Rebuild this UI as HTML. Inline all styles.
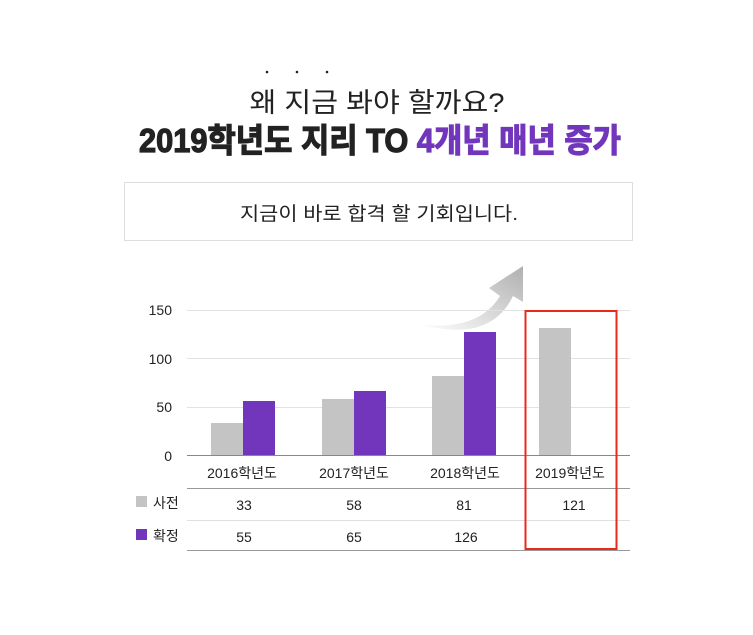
<!DOCTYPE html>
<html><head><meta charset="utf-8"><style>
html,body{margin:0;padding:0;background:#fff;}
svg{display:block;}
text{font-family:"Liberation Sans","Noto Sans CJK KR",sans-serif;}
</style></head><body>
<svg width="753" height="635" viewBox="0 0 753 635" xmlns="http://www.w3.org/2000/svg">
<defs>
<linearGradient id="ag" x1="0" y1="1" x2="1" y2="0">
<stop offset="0" stop-color="#fff"/><stop offset="1" stop-color="#b0b0b0"/>
</linearGradient>
</defs>
<circle cx="267" cy="72" r="1.3" fill="#222"/>
<circle cx="297" cy="72" r="1.3" fill="#222"/>
<circle cx="327" cy="72" r="1.3" fill="#222"/>
<text x="377" y="112" font-size="27" text-anchor="middle" fill="#222" textLength="255" lengthAdjust="spacingAndGlyphs">왜 지금 봐야 할까요?</text>
<text x="139" y="152" font-size="33" font-weight="bold" fill="#222" stroke="#222" stroke-width="1.2" textLength="482" lengthAdjust="spacingAndGlyphs">2019학년도 지리 TO <tspan fill="#7236bd" stroke="#7236bd">4개년 매년 증가</tspan></text>
<rect x="124.5" y="182.5" width="508" height="58" fill="#fff" stroke="#ddd"/>
<text x="379" y="220" font-size="19" text-anchor="middle" fill="#222" textLength="278" lengthAdjust="spacingAndGlyphs">지금이 바로 합격 할 기회입니다.</text>
<!-- arrow -->
<path d="M418,324 Q478,332 500,296 L489,288 L523,266 L523,302 L513,296 Q490,344 418,324 Z" fill="url(#ag)"/>
<!-- grid -->
<g stroke="#e2e2e2" stroke-width="1">
<line x1="187" y1="310.5" x2="630" y2="310.5"/>
<line x1="187" y1="358.5" x2="630" y2="358.5"/>
<line x1="187" y1="407.5" x2="630" y2="407.5"/>
</g>
<g font-size="14" fill="#222" text-anchor="end">
<text x="172" y="315">150</text><text x="172" y="364">100</text><text x="172" y="412">50</text><text x="172" y="461">0</text>
</g>
<g fill="#c4c4c4">
<rect x="211" y="423" width="32" height="32"/><rect x="322" y="399" width="32" height="56"/>
<rect x="432" y="376" width="32" height="79"/><rect x="539" y="328" width="32" height="127"/>
</g>
<g fill="#7236bd">
<rect x="243" y="401" width="32" height="54"/><rect x="354" y="391" width="32" height="64"/>
<rect x="464" y="332" width="32" height="123"/>
</g>
<line x1="187" y1="455.5" x2="630" y2="455.5" stroke="#888"/>
<g font-size="14" fill="#222" text-anchor="middle">
<text x="242" y="478">2016학년도</text><text x="354" y="478">2017학년도</text>
<text x="465" y="478">2018학년도</text><text x="570" y="478">2019학년도</text>
</g>
<line x1="187" y1="488.5" x2="630" y2="488.5" stroke="#999"/>
<line x1="187" y1="520.5" x2="630" y2="520.5" stroke="#e0e0e0"/>
<line x1="187" y1="550.5" x2="630" y2="550.5" stroke="#999"/>
<rect x="136" y="496" width="11" height="11" fill="#c4c4c4"/>
<rect x="136" y="529" width="11" height="11" fill="#7236bd"/>
<g font-size="14" fill="#222">
<text x="153" y="508">사전</text><text x="153" y="541">확정</text>
</g>
<g font-size="14" fill="#222" text-anchor="middle">
<text x="244" y="510">33</text><text x="354" y="510">58</text><text x="464" y="510">81</text><text x="574" y="510">121</text>
<text x="244" y="542">55</text><text x="354" y="542">65</text><text x="466" y="542">126</text>
</g>
<rect x="525.5" y="311" width="91" height="238" fill="none" stroke="#e8291c" stroke-width="2"/>
</svg>
</body></html>
